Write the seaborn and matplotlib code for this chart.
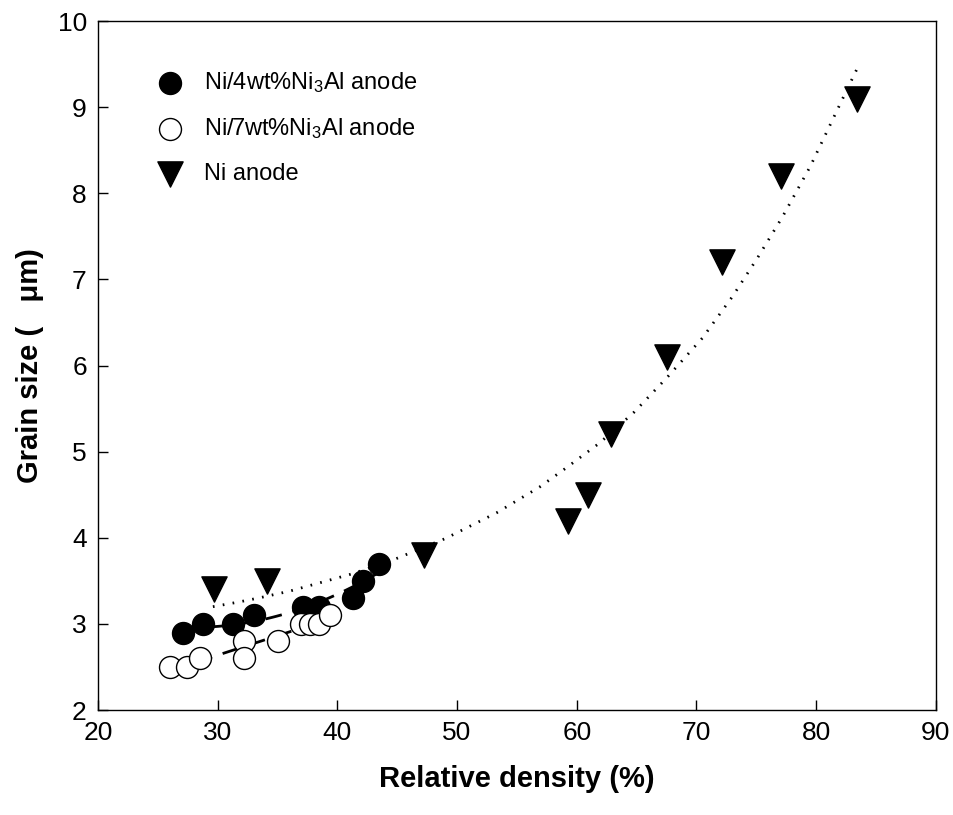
import matplotlib
matplotlib.use("Agg")
import matplotlib.pyplot as plt
import seaborn as sns
import pandas as pd

# Ni/4wt%Ni3Al anode (filled circles)
x_4wt = [27.1, 28.8, 31.3, 33.0, 37.1, 38.5, 41.3, 42.1, 43.5]
y_4wt = [2.9, 3.0, 3.0, 3.1, 3.2, 3.2, 3.3, 3.5, 3.7]

# Ni/7wt%Ni3Al anode (open circles)
x_7wt = [26.0, 27.4, 28.5, 32.2, 32.2, 35.0, 37.0, 37.7, 38.5, 39.4]
y_7wt = [2.5, 2.5, 2.6, 2.8, 2.6, 2.8, 3.0, 3.0, 3.0, 3.1]

# Ni anode (triangles)
x_ni = [29.7, 34.1, 47.2, 59.3, 60.9, 62.9, 67.5, 72.1, 77.1, 83.4]
y_ni = [3.4, 3.5, 3.8, 4.2, 4.5, 5.2, 6.1, 7.2, 8.2, 9.1]

# dotted trend curve for Ni anode
x_ni_fit = [29.6, 31.6, 33.4, 36.0, 41.2, 44.6, 49.0, 53.3, 56.9, 59.0,
            61.9, 64.8, 67.6, 70.5, 73.0, 75.1, 77.2, 79.5, 82.7, 83.5]
y_ni_fit = [3.20, 3.25, 3.30, 3.38, 3.58, 3.74, 3.99, 4.29, 4.59, 4.80,
            5.10, 5.46, 5.87, 6.32, 6.80, 7.25, 7.73, 8.31, 9.24, 9.47]

labels = ["Ni/4wt%Ni$_3$Al anode", "Ni/7wt%Ni$_3$Al anode", "Ni anode"]

sns.set_theme(style="ticks")
plt.rcParams["font.family"] = ["Liberation Sans", "DejaVu Sans"]
plt.rcParams["mathtext.fontset"] = "custom"
plt.rcParams["mathtext.rm"] = "Liberation Sans"
plt.rcParams["mathtext.it"] = "Liberation Sans"
for k in ["text.color", "axes.labelcolor", "xtick.color", "ytick.color"]:
    plt.rcParams[k] = "black"

fig = plt.figure(figsize=(9.54, 8.15), dpi=100)
ax = fig.add_axes([0.1027, 0.1288, 0.8783, 0.8454])

d4 = pd.DataFrame({"x": x_4wt, "y": y_4wt})
d7 = pd.DataFrame({"x": x_7wt, "y": y_7wt})
dn = pd.DataFrame({"x": x_ni, "y": y_ni})
dfit = pd.DataFrame({"x": x_ni_fit, "y": y_ni_fit})

# trend lines
sns.regplot(data=d4, x="x", y="y", order=2, ci=None, scatter=False, ax=ax,
            line_kws=dict(color="black", lw=2, ls=(0, (6, 4))))
sns.regplot(data=d7, x="x", y="y", order=1, ci=None, scatter=False, ax=ax,
            line_kws=dict(color="black", lw=2, ls=(0, (6, 4))))
sns.lineplot(data=dfit, x="x", y="y", ax=ax, color="black", sort=False,
             lw=2, ls=(0, (0.6, 3.0)))

sns.scatterplot(data=d4, x="x", y="y", marker="o", s=250, color="black",
                edgecolor="black", linewidth=1, ax=ax, label=labels[0], zorder=3)
sns.scatterplot(data=d7, x="x", y="y", marker="o", s=250, color="white",
                edgecolor="black", linewidth=1, ax=ax, label=labels[1], zorder=3)
sns.scatterplot(data=dn, x="x", y="y", marker="v", s=330, color="black",
                edgecolor="black", linewidth=1, ax=ax, label=labels[2], zorder=3)

ax.set_xlim(20, 90)
ax.set_ylim(2, 10)
ax.set_xticks(range(20, 91, 10))
ax.set_yticks(range(2, 11))
ax.tick_params(direction="in", length=7, width=1, labelsize=19, pad=8,
               top=False, right=False)
for s in ax.spines.values():
    s.set_linewidth(1)
    s.set_color("black")

ax.set_xlabel("Relative density (%)", fontsize=21, fontweight="bold", labelpad=14)
ax.set_ylabel("Grain size (   \u03bcm)", fontsize=21, fontweight="bold", labelpad=10)

ax.legend(loc="upper left", bbox_to_anchor=(0.033, 0.96), frameon=False,
          fontsize=17, handletextpad=0.4, labelspacing=0.92, markerscale=1.0)

fig.savefig("out.png", dpi=100)
